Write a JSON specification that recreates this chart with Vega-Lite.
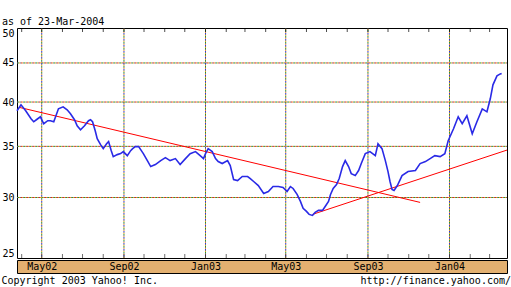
{
  "$schema": "https://vega.github.io/schema/vega-lite/v6.json",
  "background": "white",
  "padding": {"left": 1, "top": 16, "right": 0, "bottom": 0},
  "autosize": {"type": "pad"},
  "spacing": 0,
  "config": {
    "font": "DejaVu Sans Mono",
    "axis": {"labelFont": "DejaVu Sans Mono", "labelFontSize": 10, "labelColor": "black"},
    "title": {"font": "DejaVu Sans Mono", "fontSize": 10, "fontWeight": "normal", "color": "black"}
  },
  "title": {"text": "Copyright 2003 Yahoo! Inc.", "orient": "bottom", "anchor": "start", "frame": "bounds", "offset": -11},
  "datasets": {
    "price": [
      {"date": "2002-03-25", "close": 38.96}, {"date": "2002-03-31", "close": 39.67}, {"date": "2002-04-07", "close": 38.96},
      {"date": "2002-04-15", "close": 38.04}, {"date": "2002-04-19", "close": 37.69}, {"date": "2002-04-23", "close": 37.92},
      {"date": "2002-04-29", "close": 38.26}, {"date": "2002-05-04", "close": 37.47}, {"date": "2002-05-10", "close": 37.81},
      {"date": "2002-05-14", "close": 37.81}, {"date": "2002-05-19", "close": 37.69}, {"date": "2002-05-26", "close": 39.19},
      {"date": "2002-06-02", "close": 39.43}, {"date": "2002-06-08", "close": 39.08}, {"date": "2002-06-13", "close": 38.61},
      {"date": "2002-06-19", "close": 37.92}, {"date": "2002-06-23", "close": 37.24}, {"date": "2002-06-28", "close": 36.8},
      {"date": "2002-07-04", "close": 37.24}, {"date": "2002-07-10", "close": 37.81}, {"date": "2002-07-13", "close": 37.92},
      {"date": "2002-07-16", "close": 37.69}, {"date": "2002-07-20", "close": 36.69}, {"date": "2002-07-23", "close": 35.82},
      {"date": "2002-07-28", "close": 35.18}, {"date": "2002-08-01", "close": 34.76}, {"date": "2002-08-06", "close": 35.28},
      {"date": "2002-08-09", "close": 35.5}, {"date": "2002-08-13", "close": 34.55}, {"date": "2002-08-16", "close": 33.93},
      {"date": "2002-08-22", "close": 34.14}, {"date": "2002-08-27", "close": 34.24}, {"date": "2002-08-31", "close": 34.45},
      {"date": "2002-09-06", "close": 34.03}, {"date": "2002-09-11", "close": 34.55}, {"date": "2002-09-14", "close": 34.76},
      {"date": "2002-09-18", "close": 34.97}, {"date": "2002-09-23", "close": 34.97}, {"date": "2002-09-27", "close": 34.55},
      {"date": "2002-09-30", "close": 34.24}, {"date": "2002-10-06", "close": 33.53}, {"date": "2002-10-11", "close": 32.93},
      {"date": "2002-10-18", "close": 33.13}, {"date": "2002-10-26", "close": 33.53}, {"date": "2002-11-02", "close": 33.83},
      {"date": "2002-11-09", "close": 33.53}, {"date": "2002-11-17", "close": 33.73}, {"date": "2002-11-24", "close": 33.13},
      {"date": "2002-12-02", "close": 33.73}, {"date": "2002-12-09", "close": 34.24}, {"date": "2002-12-17", "close": 34.45},
      {"date": "2002-12-24", "close": 34.03}, {"date": "2002-12-29", "close": 33.73}, {"date": "2003-01-01", "close": 34.24},
      {"date": "2003-01-05", "close": 34.76}, {"date": "2003-01-11", "close": 34.45}, {"date": "2003-01-16", "close": 33.73},
      {"date": "2003-01-20", "close": 33.43}, {"date": "2003-01-26", "close": 33.23}, {"date": "2003-02-03", "close": 33.53},
      {"date": "2003-02-07", "close": 33.03}, {"date": "2003-02-12", "close": 31.67}, {"date": "2003-02-18", "close": 31.57},
      {"date": "2003-02-25", "close": 31.96}, {"date": "2003-03-05", "close": 31.96}, {"date": "2003-03-09", "close": 31.76},
      {"date": "2003-03-14", "close": 31.48}, {"date": "2003-03-21", "close": 31.1}, {"date": "2003-03-29", "close": 30.37},
      {"date": "2003-04-05", "close": 30.55}, {"date": "2003-04-12", "close": 31.01}, {"date": "2003-04-20", "close": 31.01},
      {"date": "2003-04-27", "close": 30.92}, {"date": "2003-05-03", "close": 30.55}, {"date": "2003-05-08", "close": 31.01},
      {"date": "2003-05-12", "close": 30.83}, {"date": "2003-05-18", "close": 30.28}, {"date": "2003-05-23", "close": 29.65},
      {"date": "2003-05-27", "close": 29.03}, {"date": "2003-06-01", "close": 28.77}, {"date": "2003-06-05", "close": 28.51},
      {"date": "2003-06-10", "close": 28.42}, {"date": "2003-06-14", "close": 28.68}, {"date": "2003-06-19", "close": 28.86},
      {"date": "2003-06-25", "close": 28.86}, {"date": "2003-06-29", "close": 29.2}, {"date": "2003-07-04", "close": 29.65},
      {"date": "2003-07-07", "close": 30.28}, {"date": "2003-07-11", "close": 30.83}, {"date": "2003-07-16", "close": 31.2},
      {"date": "2003-07-20", "close": 31.76}, {"date": "2003-07-25", "close": 32.93}, {"date": "2003-07-29", "close": 33.53},
      {"date": "2003-08-03", "close": 32.93}, {"date": "2003-08-07", "close": 32.24}, {"date": "2003-08-13", "close": 32.05},
      {"date": "2003-08-18", "close": 32.54}, {"date": "2003-08-22", "close": 33.23}, {"date": "2003-08-28", "close": 34.24},
      {"date": "2003-09-04", "close": 34.45}, {"date": "2003-09-12", "close": 34.03}, {"date": "2003-09-16", "close": 35.28},
      {"date": "2003-09-22", "close": 34.76}, {"date": "2003-09-27", "close": 33.53}, {"date": "2003-10-01", "close": 32.44},
      {"date": "2003-10-04", "close": 31.48}, {"date": "2003-10-07", "close": 30.73}, {"date": "2003-10-10", "close": 30.64},
      {"date": "2003-10-15", "close": 31.1}, {"date": "2003-10-22", "close": 32.05}, {"date": "2003-10-31", "close": 32.44},
      {"date": "2003-11-11", "close": 32.54}, {"date": "2003-11-18", "close": 33.23}, {"date": "2003-11-26", "close": 33.43},
      {"date": "2003-12-03", "close": 33.73}, {"date": "2003-12-10", "close": 34.03}, {"date": "2003-12-18", "close": 33.93},
      {"date": "2003-12-25", "close": 34.24}, {"date": "2003-12-30", "close": 35.6}, {"date": "2004-01-07", "close": 36.91},
      {"date": "2004-01-14", "close": 38.26}, {"date": "2004-01-20", "close": 37.47}, {"date": "2004-01-27", "close": 38.38},
      {"date": "2004-02-04", "close": 36.36}, {"date": "2004-02-11", "close": 37.69}, {"date": "2004-02-19", "close": 39.19},
      {"date": "2004-02-26", "close": 38.84}, {"date": "2004-03-02", "close": 40.39}, {"date": "2004-03-06", "close": 42.13},
      {"date": "2004-03-12", "close": 43.28}, {"date": "2004-03-17", "close": 43.54}, {"date": "2004-03-19", "close": 43.6}
    ],
    "trend": [
      {"seg": "down", "date": "2002-03-28", "value": 39.37},
      {"seg": "down", "date": "2003-11-18", "value": 29.56},
      {"seg": "up", "date": "2003-06-10", "value": 28.51},
      {"seg": "up", "date": "2004-03-27", "value": 34.61}
    ],
    "ygrid": [{"v": 30}, {"v": 35}, {"v": 40}, {"v": 45}],
    "xgrid": [{"d": "2002-05-01"}, {"d": "2002-09-01"}, {"d": "2003-01-01"}, {"d": "2003-05-01"}, {"d": "2003-09-01"}, {"d": "2004-01-01"}],
    "months": [
      {"m": "2002-04-01"}, {"m": "2002-05-01"}, {"m": "2002-06-01"}, {"m": "2002-07-01"}, {"m": "2002-08-01"}, {"m": "2002-09-01"},
      {"m": "2002-10-01"}, {"m": "2002-11-01"}, {"m": "2002-12-01"}, {"m": "2003-01-01"}, {"m": "2003-02-01"}, {"m": "2003-03-01"},
      {"m": "2003-04-01"}, {"m": "2003-05-01"}, {"m": "2003-06-01"}, {"m": "2003-07-01"}, {"m": "2003-08-01"}, {"m": "2003-09-01"},
      {"m": "2003-10-01"}, {"m": "2003-11-01"}, {"m": "2003-12-01"}, {"m": "2004-01-01"}, {"m": "2004-02-01"}, {"m": "2004-03-01"}
    ]
  },
  "vconcat": [
    {
      "width": 490,
      "height": 230,
      "view": {"stroke": "black", "strokeWidth": 1},
      "title": {"text": "as of 23-Mar-2004", "anchor": "start", "frame": "bounds", "offset": 1},
      "resolve": {"axis": {"x": "independent", "y": "independent"}},
      "layer": [
        {"data": {"name": "ygrid"}, "mark": {"type": "rule", "color": "#707070", "strokeDash": [1, 2], "strokeDashOffset": 0},
         "encoding": {"y": {"field": "v", "type": "quantitative", "scale": {"type": "log", "domain": [25, 50], "nice": false, "zero": false}, "axis": null}}},
        {"data": {"name": "ygrid"}, "mark": {"type": "rule", "color": "#e89a20", "strokeDash": [1, 2], "strokeDashOffset": 2},
         "encoding": {"y": {"field": "v", "type": "quantitative", "scale": {"type": "log", "domain": [25, 50], "nice": false, "zero": false}, "axis": null}}},
        {"data": {"name": "ygrid"}, "mark": {"type": "rule", "color": "#20a030", "strokeDash": [1, 5], "strokeDashOffset": 4},
         "encoding": {"y": {"field": "v", "type": "quantitative", "scale": {"type": "log", "domain": [25, 50], "nice": false, "zero": false}, "axis": null}}},
        {"data": {"name": "ygrid"}, "mark": {"type": "rule", "color": "#e02020", "strokeDash": [1, 5], "strokeDashOffset": 1},
         "encoding": {"y": {"field": "v", "type": "quantitative", "scale": {"type": "log", "domain": [25, 50], "nice": false, "zero": false}, "axis": null}}},
        {"data": {"name": "xgrid"}, "mark": {"type": "rule", "color": "#707070", "strokeDash": [1, 2], "strokeDashOffset": 0},
         "encoding": {"x": {"field": "d", "type": "temporal", "scale": {"type": "utc", "domain": [{"year": 2002, "month": 3, "date": 25, "utc": true}, {"year": 2004, "month": 3, "date": 27, "utc": true}]}, "axis": null}}},
        {"data": {"name": "xgrid"}, "mark": {"type": "rule", "color": "#e89a20", "strokeDash": [1, 2], "strokeDashOffset": 2},
         "encoding": {"x": {"field": "d", "type": "temporal", "scale": {"type": "utc", "domain": [{"year": 2002, "month": 3, "date": 25, "utc": true}, {"year": 2004, "month": 3, "date": 27, "utc": true}]}, "axis": null}}},
        {"data": {"name": "xgrid"}, "mark": {"type": "rule", "color": "#20a030", "strokeDash": [1, 5], "strokeDashOffset": 4},
         "encoding": {"x": {"field": "d", "type": "temporal", "scale": {"type": "utc", "domain": [{"year": 2002, "month": 3, "date": 25, "utc": true}, {"year": 2004, "month": 3, "date": 27, "utc": true}]}, "axis": null}}},
        {"data": {"name": "xgrid"}, "mark": {"type": "rule", "color": "#3030e0", "strokeDash": [1, 5], "strokeDashOffset": 1},
         "encoding": {"x": {"field": "d", "type": "temporal", "scale": {"type": "utc", "domain": [{"year": 2002, "month": 3, "date": 25, "utc": true}, {"year": 2004, "month": 3, "date": 27, "utc": true}]}, "axis": null}}},
        {"data": {"name": "months"}, "mark": {"type": "tick", "orient": "vertical", "color": "black", "size": 4, "thickness": 1, "yOffset": 2},
         "encoding": {
           "x": {"field": "m", "type": "temporal", "scale": {"type": "utc", "domain": [{"year": 2002, "month": 3, "date": 25, "utc": true}, {"year": 2004, "month": 3, "date": 27, "utc": true}]}, "axis": null},
           "y": {"datum": 50, "type": "quantitative", "scale": {"type": "log", "domain": [25, 50], "nice": false, "zero": false}, "axis": null}
         }},
        {"data": {"name": "months"}, "mark": {"type": "tick", "orient": "vertical", "color": "#333333", "size": 4, "thickness": 1, "yOffset": -2},
         "encoding": {
           "x": {"field": "m", "type": "temporal", "scale": {"type": "utc", "domain": [{"year": 2002, "month": 3, "date": 25, "utc": true}, {"year": 2004, "month": 3, "date": 27, "utc": true}]}, "axis": null},
           "y": {"datum": 25, "type": "quantitative", "scale": {"type": "log", "domain": [25, 50], "nice": false, "zero": false}, "axis": null}
         }},
        {"data": {"name": "trend"}, "mark": {"type": "line", "color": "#ff0000", "strokeWidth": 1},
         "encoding": {
           "x": {"field": "date", "type": "temporal", "scale": {"type": "utc", "domain": [{"year": 2002, "month": 3, "date": 25, "utc": true}, {"year": 2004, "month": 3, "date": 27, "utc": true}]}, "axis": null},
           "y": {"field": "value", "type": "quantitative", "scale": {"type": "log", "domain": [25, 50], "nice": false, "zero": false}, "axis": null},
           "detail": {"field": "seg"}
         }},
        {"data": {"name": "price"}, "mark": {"type": "line", "color": "#2a2ae6", "strokeWidth": 1.6},
         "encoding": {
           "x": {"field": "date", "type": "temporal", "scale": {"type": "utc", "domain": [{"year": 2002, "month": 3, "date": 25, "utc": true}, {"year": 2004, "month": 3, "date": 27, "utc": true}]}, "axis": null},
           "y": {"field": "close", "type": "quantitative", "scale": {"type": "log", "domain": [25, 50], "nice": false, "zero": false},
                 "axis": {"orient": "left", "values": [25, 30, 35, 40, 45, 50], "format": "d", "ticks": false, "tickSize": 0, "labelPadding": 3, "domain": false, "grid": false, "labelFlush": true, "title": null}}
         }}
      ]
    },
    {
      "width": 490,
      "height": 13,
      "view": {"stroke": "black", "strokeWidth": 1, "fill": "#e3b070"},
      "title": {"text": "http://finance.yahoo.com/", "orient": "bottom", "anchor": "end", "frame": "bounds", "offset": 3, "dx": 4},
      "data": {"name": "xgrid"},
      "mark": {"type": "point", "opacity": 0},
      "encoding": {
        "x": {"field": "d", "type": "temporal", "scale": {"type": "utc", "domain": [{"year": 2002, "month": 3, "date": 25, "utc": true}, {"year": 2004, "month": 3, "date": 27, "utc": true}]},
              "axis": {"orient": "bottom", "domain": false, "grid": false, "ticks": false, "tickSize": 0, "values": [{"year": 2002, "month": 5, "date": 1, "utc": true}, {"year": 2002, "month": 9, "date": 1, "utc": true}, {"year": 2003, "month": 1, "date": 1, "utc": true}, {"year": 2003, "month": 5, "date": 1, "utc": true}, {"year": 2003, "month": 9, "date": 1, "utc": true}, {"year": 2004, "month": 1, "date": 1, "utc": true}],
                       "labelExpr": "utcFormat(datum.value, '%b%y')",
                       "labelPadding": -12, "labelOverlap": false, "labelFlush": false, "labelBound": false, "labelAlign": "center", "title": null}}
      }
    }
  ]
}
